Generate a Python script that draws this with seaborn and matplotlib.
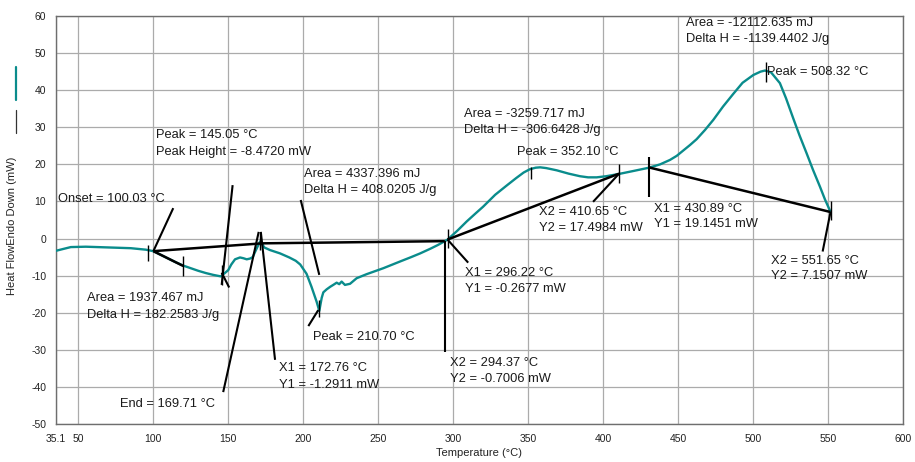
import numpy as np
import pandas as pd
import matplotlib
matplotlib.use("Agg")
import matplotlib.pyplot as plt
from matplotlib.lines import Line2D
import seaborn as sns

# ---- DSC heat-flow trace ----
temperature = [35.1, 40, 45, 55, 70, 85, 95, 100, 105, 110, 115, 120, 125, 130, 135,
               140, 145, 148, 150, 152, 154.5, 157.8, 160, 162.3, 164.5, 166.3, 168,
               169.5, 171.2, 172.5, 174, 177.8, 184.5, 190.7, 195, 198, 202.2, 205.5,
               208.9, 210.7, 212.3, 213.4, 215.6, 218, 220, 222.3, 224, 225.6, 227.8,
               231.2, 235.6, 242.3, 253.4, 264.5, 272, 278, 285, 290, 296.2, 303, 309,
               315, 320, 328, 335.7, 342, 347, 351.2, 355, 358, 362, 369, 377, 384.6,
               390, 395.7, 402, 410.4, 420, 430.6, 438, 444.6, 449.1, 457.9, 462.4,
               468, 473.5, 480, 486.8, 493, 500.2, 505, 508, 512, 517.9, 522, 526.8, 531,
               535.7, 540, 544.6, 548, 551.65]
heat_flow = [-3.3, -2.8, -2.3, -2.2, -2.4, -2.6, -3.0, -3.4, -4.4, -5.4, -6.4, -7.3,
             -8.0, -8.7, -9.3, -9.8, -10.2, -9.2, -8.5, -7.0, -5.6, -5.1, -5.3, -5.6,
             -5.4, -5.0, -3.5, -2.2, -0.8, -1.4, -2.4, -3.1, -4.0, -5.1, -6.0, -7.0,
             -9.5, -13.0, -17.0, -19.5, -16.0, -14.5, -13.7, -13.0, -12.5, -11.9,
             -12.3, -11.6, -12.5, -12.2, -10.7, -9.6, -8.0, -6.2, -5.0, -4.0, -2.7,
             -1.7, -0.3, 2.2, 4.6, 6.8, 8.6, 11.8, 14.3, 16.3, 17.8, 18.7, 19.1, 19.2,
             19.0, 18.4, 17.5, 16.8, 16.5, 16.5, 16.8, 17.4, 18.2, 19.1, 20.0, 21.2,
             22.3, 25.2, 26.8, 29.3, 32.0, 35.6, 39.0, 42.0, 44.1, 45.0, 45.3, 44.8, 41.9,
             37.8, 32.4, 27.8, 23.0, 18.5, 14.0, 10.5, 7.2]

# ---- axis ticks ----
x_ticks = [35.1, 50, 100, 150, 200, 250, 300, 350, 400, 450, 500, 550, 600]
x_tick_labels = ["35.1", "50", "100", "150", "200", "250", "300", "350", "400",
                 "450", "500", "550", "600"]
y_ticks = [-50, -40, -30, -20, -10, 0, 10, 20, 30, 40, 50, 60]
y_tick_labels = [str(v) for v in y_ticks]

# ---- integration baselines and onset tangent (x pairs, y pairs) ----
baseline_x = [[100.03, 172.76], [172.76, 294.37], [296.22, 410.65], [430.89, 551.65],
              [100.03, 120.0]]
baseline_y = [[-3.4, -1.2911], [-1.2911, -0.7006], [-0.2677, 17.4984],
              [19.1451, 7.1507], [-3.4, -7.4]]

# ---- leader lines from labels to features ----
leader_x = [[100.03, 113.3], [152.9, 145.6], [145.6, 150.6], [146.6, 170.3],
            [181.2, 171.7], [198.3, 210.7], [203.4, 210.0], [294.37, 294.37],
            [296.22, 310.0], [410.65, 393.3], [430.89, 430.89], [551.65, 546.4]]
leader_y = [[-3.4, 8.2], [14.4, -12.5], [-9.2, -13.2], [-41.4, 1.8],
            [-32.7, 1.8], [10.4, -9.8], [-23.6, -19.3], [-0.7006, -30.5],
            [-0.2677, -6.5], [17.4984, 9.9], [22.1, 11.1], [7.1507, -3.5]]

# ---- short vertical markers (x, y_top, y_bottom) ----
marker_x = [96.3, 120.0, 145.6, 171.0, 210.7, 296.22, 352.10, 410.65, 508.32, 551.65]
marker_top = [-1.7, -4.7, -7.1, 1.8, -16.6, 2.5, 19.2, 20.1, 47.7, 10.0]
marker_bottom = [-6.0, -10.1, -12.5, -3.2, -21.1, -2.6, 16.0, 14.9, 42.3, 5.0]

# ---- annotation texts (left x, centre y, text) ----
label_x = [36.6, 101.8, 101.8, 200.5, 200.5, 56.0, 56.0, 206.7, 184.0, 184.0, 77.8,
           297.9, 297.9, 307.9, 307.9, 307.4, 307.4, 342.8, 357.4, 357.4, 433.9,
           433.9, 512.0, 512.0, 455.1, 455.1, 509.5]
label_y = [10.7, 27.9, 23.4, 17.4, 13.1, -16.1, -20.6, -26.5, -35.0, -39.6, -44.6,
           -33.6, -37.9, -9.2, -13.6, 33.6, 29.3, 23.2, 7.1, 2.8, 8.1, 3.8, -6.0,
           -10.1, 58.2, 53.8, 45.0]
label_text = ["Onset = 100.03 °C",
              "Peak = 145.05 °C", "Peak Height = -8.4720 mW",
              "Area = 4337.396 mJ", "Delta H = 408.0205 J/g",
              "Area = 1937.467 mJ", "Delta H = 182.2583 J/g",
              "Peak = 210.70 °C",
              "X1 = 172.76 °C", "Y1 = -1.2911 mW",
              "End = 169.71 °C",
              "X2 = 294.37 °C", "Y2 = -0.7006 mW",
              "X1 = 296.22 °C", "Y1 = -0.2677 mW",
              "Area = -3259.717 mJ", "Delta H = -306.6428 J/g",
              "Peak = 352.10 °C",
              "X2 = 410.65 °C", "Y2 = 17.4984 mW",
              "X1 = 430.89 °C", "Y1 = 19.1451 mW",
              "X2 = 551.65 °C", "Y2 = 7.1507 mW",
              "Area = -12112.635 mJ", "Delta H = -1139.4402 J/g",
              "Peak = 508.32 °C"]

TEAL = "#0a8c8c"
GRID = "#ababab"
FRAME = "#6e6e6e"

sns.set_theme(style="white")
plt.rcParams["font.family"] = ["Liberation Sans", "DejaVu Sans"]

fig = plt.figure(figsize=(9.15, 4.62), dpi=100)
ax = fig.add_axes([56 / 915, 38 / 462, 847 / 915, 408 / 462])

trace = pd.DataFrame({"Temperature": temperature, "HeatFlow": heat_flow})
sns.lineplot(data=trace, x="Temperature", y="HeatFlow", ax=ax, color=TEAL,
             linewidth=1.7, sort=False, estimator=None, zorder=3)

for xs, ys in zip(baseline_x, baseline_y):
    ax.plot(xs, ys, color="black", linewidth=1.8, zorder=4, solid_capstyle="butt")
for xs, ys in zip(leader_x, leader_y):
    ax.plot(xs, ys, color="black", linewidth=1.5, zorder=4, solid_capstyle="butt")
ax.vlines(marker_x, marker_bottom, marker_top, color="black", linewidth=1.0, zorder=4)

for x, y, t in zip(label_x, label_y, label_text):
    ax.text(x, y, t, ha="left", va="center", fontsize=9.3, color="#1a1a1a", zorder=5)

ax.set_xlim(35.1, 600)
ax.set_ylim(-50, 60)
ax.set_xticks(x_ticks)
ax.set_xticklabels(x_tick_labels)
ax.set_yticks(y_ticks)
ax.set_yticklabels(y_tick_labels)
ax.tick_params(axis="both", labelsize=7.5, length=4, width=0.8, color=FRAME,
               direction="out", labelcolor="#222222", pad=3)
ax.grid(True, color=GRID, linewidth=0.9)
for sp in ax.spines.values():
    sp.set_color(FRAME)
    sp.set_linewidth(1.0)

ax.set_xlabel("Temperature (°C)", fontsize=8, color="#222222")
ax.set_ylabel("Heat FlowEndo Down (mW)", fontsize=8, color="#222222")
ax.xaxis.set_label_coords(0.5, -0.058)
ax.yaxis.set_label_coords(-0.046, 0.485)

# signal key drawn beside the y-axis title
fig.add_artist(Line2D([16 / 915, 16 / 915], [1 - 67 / 462, 1 - 100 / 462],
                      color=TEAL, linewidth=1.6))
fig.add_artist(Line2D([16 / 915, 16 / 915], [1 - 110 / 462, 1 - 133 / 462],
                      color="#333333", linewidth=0.9))

fig.savefig("out.png", dpi=100)
